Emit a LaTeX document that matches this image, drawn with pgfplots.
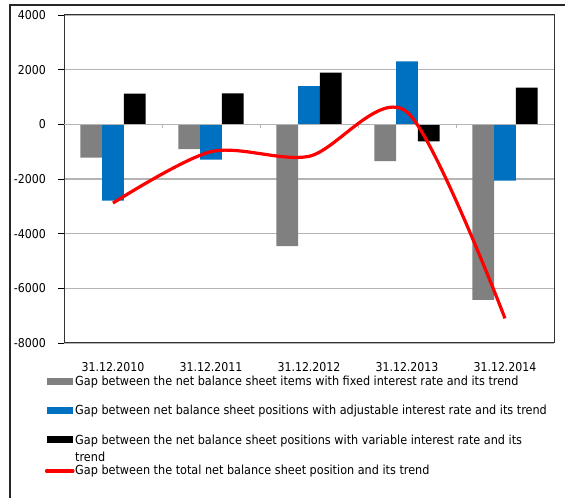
\documentclass[border=0pt]{standalone}
\usepackage{fontspec}
\setmainfont{DejaVu Sans Condensed}
\usepackage{pgfplots}
\pgfplotsset{compat=1.18}

\definecolor{fixgray}{HTML}{808080}
\definecolor{adjblue}{HTML}{0070C0}
\definecolor{gridgray}{HTML}{B4B4B4}

\begin{document}
\begin{tikzpicture}[font=\fontsize{12.2}{14}\selectfont]
\useasboundingbox (0,0) rectangle (565pt,498pt);
\draw[line width=1.2pt, black!85] (10pt,-5pt) -- (10pt,493pt) -- (570pt,493pt);
\begin{axis}[
    at={(64pt,155pt)}, anchor=south west,
    width=490pt, height=328pt, scale only axis,
    ybar=0pt, bar width=21.7pt,
    xmin=-0.5, xmax=4.5, ymin=-8000, ymax=4000,
    enlargelimits=false,
    xtick={0,...,4},
    xticklabels={31.12.2010,31.12.2011,31.12.2012,31.12.2013,31.12.2014},
    ytick={-8000,-6000,...,4000},
    xtick pos=bottom, ytick pos=left,
    major x tick style={draw=none},
    y tick style={black, line width=0.8pt},
    tick align=outside, major tick length=6pt,
    ymajorgrids, grid style={gridgray, line width=1.2pt},
    axis line style={black!80, line width=1pt},
    xticklabel style={anchor=base, yshift=-23pt},
    yticklabel style={anchor=east, inner sep=0pt, xshift=-12pt},
    /pgf/number format/assume math mode=true,
    /pgf/number format/1000 sep={},
    scaled y ticks=false,
]
\addplot[fill=fixgray, draw=none]
    coordinates {(0,-1220) (1,-910) (2,-4460) (3,-1350) (4,-6420)};
\addplot[fill=adjblue, draw=none]
    coordinates {(0,-2790) (1,-1290) (2,1400) (3,2300) (4,-2060)};
\addplot[fill=black, draw=none]
    coordinates {(0,1120) (1,1130) (2,1890) (3,-620) (4,1340)};
\draw[gridgray, line width=1.2pt] (axis cs:-0.5,0) -- (axis cs:4.5,0);
\pgfplotsinvokeforeach{0.5,1.5,2.5,3.5}{
    \draw[gridgray, line width=1pt] (axis cs:#1,0) -- ([yshift=-4pt]axis cs:#1,0);
}
\addplot[sharp plot, smooth, red, line width=3.2pt, mark=none]
    coordinates {(0,-2880) (1,-1000) (2,-1170) (3,450) (4,-7100)};
\end{axis}

% legend
\begin{scope}[every node/.style={anchor=base west, inner sep=0pt,
    font=\fontsize{12.5}{14}\selectfont}]
\fill[fixgray] (47pt,112.8pt) rectangle (73pt,119.8pt);
\node at (75pt,112pt) {Gap between the net balance sheet items with fixed interest rate and its trend};
\fill[adjblue] (47pt,83.8pt) rectangle (73pt,90.8pt);
\node at (75pt,83pt) {Gap between net balance sheet positions with adjustable interest rate and its trend};
\fill[black] (47pt,54.5pt) rectangle (73pt,61.5pt);
\node at (75pt,53.7pt) {Gap between the net balance sheet positions with variable interest rate and its};
\node at (75pt,36.3pt) {trend};
\draw[red, line width=3.2pt, line cap=round] (46.5pt,27pt) -- (73pt,27pt);
\node at (75pt,23pt) {Gap between the total net balance sheet position and its trend};
\end{scope}
\end{tikzpicture}
\end{document}
